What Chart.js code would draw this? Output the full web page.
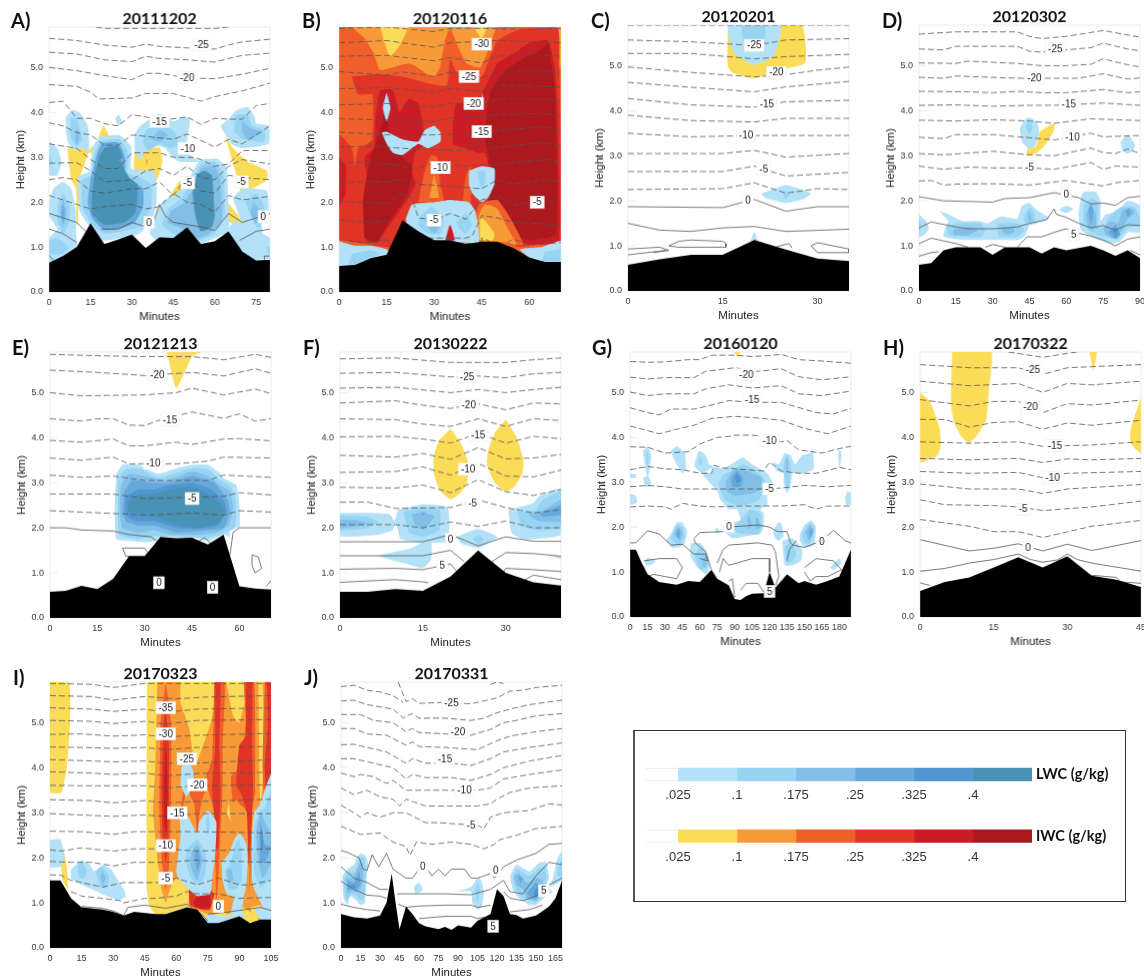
<!DOCTYPE html>
<html><head><meta charset="utf-8">
<script src="https://cdn.jsdelivr.net/npm/chart.js@4"></script>
<style>
html,body{margin:0;padding:0;background:#fff;width:1144px;height:980px;overflow:hidden}
canvas{position:absolute;filter:blur(.3px)}
.tag{position:absolute;font:bold 20px Lato,sans-serif;color:#111;line-height:24px}
#box{position:absolute;left:632.5px;top:730px;width:490px;height:170px;border:1px solid #333;border-left:2px solid #555}
</style></head><body>
<div id="box"></div>
<script>
const liquidColors=['#b3e1f7','#97d4f3','#82bee6','#67a8da','#5096d2','#4893b4'];
const iceColors=['#fbdc58','#f89a38','#f05f2a','#e03526','#c91d25','#ab191e'];
const legendEdges=[-0.0157,.025,.1,.175,.25,.325,.4,.475];
const legendRows=['LWC (g/kg)','IWC (g/kg)'];
const legendTickValues=[.025,.1,.175,.25,.325,.4];
const legendTickLabels=['.025','.1','.175','.25','.325','.4'];
const heightTicks=[0,1,2,3,4,5];

/* ---------- A ---------- */
const A_terrain=[0,.65,5,.8,10,1,15,1.53,20,1.07,25,1.17,30,1.28,35,.98,40,1.22,45,1.2,50,1.44,55,1.07,60,1.13,65,1.35,70,.9,75,.7,80,.72];
const A_ice=[
[0,[6.6,3.2,8,2.5,9.7,2.3,10,1.5,10.5,1.5,11,2.5,15,3.2,17,3.3,19.7,3.7,22,3.4,18,3,12,3.2]],
[0,[31,3.15,40,3.22,41,2.9,39,2.5,31,2.7]],[0,[38.5,2,40,1.5,39,1.5,38.7,2]],
[0,[43,2.05,47,2.45,50,2.55,50.5,2.2,46,2.05]],[1,[46.5,2.15,48,2.5,50,2.5,50,2.15]],[3,[48,2.15,49.5,2.4,50,2.15]],
[1,[37.8,1.6,40,1.75,40,1.45,38.5,1.5]],[1,[35,2.95,35.7,2.95,35.5,2.8]],
[0,[49.5,3.5,50.5,3.8,51,3.8,50.5,3.6]],
[0,[63.7,3.5,66.7,3.2,72,2.9,79,2.7,79,2.5,70,2.2,68,2.6,66,3]],[0,[64.5,2,66,1.9,71,1.5,70,1.35,65,1.6]]];
const A_liquid=[
[0,[0,3.35,3,3.2,4.5,2.9,3,2.6,0,2.6]],[1,[0,3.1,1,2.9,0,2.75]],
[0,[0,2,1.5,2.3,5,2.45,8,2.3,9.7,1.8,9.8,1.3,10,1,5,.8,0,.65,0,1.2,3,1.4,0,1.7]],
[1,[5,2.2,7.5,1.9,7,1.5,5,1.3,3,1.6,3,1.9]],[2,[5,2.05,6.3,1.8,5,1.45,4,1.8]],[3,[5,1.95,5.5,1.75,5,1.55,4.5,1.75]],[1,[0,1.15,3,1.2,7,1,5,.85,0,.85]],
[0,[6,3.9,8.5,4.05,11,4,14,3.7,14.5,3.1,12,3.2,10,3.15,7,3.3,6,3.6]],[1,[8,3.9,10,3.85,12,3.4,10,3.25,8,3.4,7.5,3.6]],[2,[10,3.65,11,3.45,10,3.25,9.5,3.45]],
[0,[24,3.85,25,3.95,26.5,3.8,25,3.7]],
[0,[15.7,3.23,18.4,3.45,25.6,3.49,29.8,3.23,29.8,2.75,38.3,2.67,39,2.04,37.7,1.67,32.9,1.3,28,1.22,19.6,1.15,14.7,1.45,11,1.82,10.5,2.56,14.7,2.7]],
[1,[16,3,18.5,3.35,25.5,3.4,28.5,3.1,28.5,2.65,33,2.55,37,2.4,37,1.9,33,1.45,27,1.35,20,1.3,15,1.55,12,1.9,12,2.5,15.5,2.6]],
[3,[17,3,19,3.3,25,3.33,27.5,3,27.5,2.6,31,2.45,34,2.3,34,1.9,31,1.55,26,1.42,20,1.38,15.5,1.65,14,2,15,2.5]],
[5,[18,3,20,3.2,25,3.25,26.5,3,25.5,2.95,29,2.55,32,2.4,32,2.1,31,1.75,27,1.55,20,1.5,15.5,1.75,16,2.4]],
[0,[41.3,2.04,46.2,2.19,51,2.56,54.6,2.93,60.7,2.97,64.3,2.78,64.9,1.97,65,1.37,54.6,1.07,45,1.15,39,1.15,36.5,1.3,40,1.9]],
[1,[43,1.85,48,2.1,52,2.5,55,2.85,60,2.9,63,2.65,63.5,1.7,60,1.3,54,1.15,45,1.3,41,1.5]],
[2,[44,1.8,49,2,53,2.4,55,2.75,60,2.8,62,2.5,62.5,1.6,58,1.3,54,1.2,47,1.45,43,1.55]],
[5,[52,2.2,53.5,2.6,56,2.7,59,2.6,59.5,2.2,60,1.7,59,1.45,55,1.35,53,1.7]],
[0,[31,3.3,31,3.5,33,3.7,40,3.97,45,3.8,49,3.9,51,3.85,50,3.3,52,3,55,2.9,47,2.9,45,3,42,3.2,40,3.25,36,3.2,33,2.95,31,3.15]],
[1,[34,3.3,35,3.6,40,3.75,45,3.6,47,3.3,44,3.2,40,3.3,36,3.15]],[2,[37,3.4,40,3.6,43,3.5,40,3.35]],
[0,[62,3.7,65,3.85,68,4.05,72,4.12,74.5,3.9,75,3.75,79.5,3.7,79.5,3.3,70,3.2,66,3.3,64,3.5]],
[1,[68,3.95,72,3.95,73.5,3.7,78,3.6,78,3.35,70,3.4,67,3.6]],[2,[70,3.8,73,3.65,77,3.55,72,3.4,70,3.55]],
[0,[66.5,2.1,70,2.3,75,2.3,79,2.25,79.5,1.8,77,1.6,77.5,1.3,80,1.2,80,.75,72,.72,70,.9,65,1.37,66,1.5,68,1.6,70,1.5]],
[1,[71,2,75,2.2,78,1.9,76,1.4,74,1.6]],[2,[74,2,76,1.85,75,1.5,73,1.75]],[1,[79,1,80,1,80,.85,79,.9]]];
const A_cold=[
[17,5.9,20,5.87,60,5.87,65,5.9],
[0,5.65,10,5.6,20,5.5,30,5.45,35,5.52,40,5.47,55,5.42,60,5.41,65,5.5,70,5.57,80,5.63],
[0,5.34,10,5.3,20,5.17,30,5.13,35,5.25,40,5.2,50,5.17,60,5.12,65,5.2,70,5.27,80,5.32],
[0,5,10,4.93,20,4.82,30,4.73,35,4.87,40,4.87,50,4.77,60,4.75,70,4.85,80,4.98],
[0,4.62,10,4.58,15,4.45,18,4.3,30,4.32,35,4.42,45,4.42,55,4.25,60,4.35,70,4.48,80,4.65],
[0,4.22,5,4.25,10,3.87,15,3.87,20,3.75,25,3.7,30,3.95,35,3.9,40,3.82,50,3.9,55,3.73,60,3.87,65,3.85,70,3.85,75,4.15,80,4.2],
[0,3.77,5,3.7,10,3.55,15,3.5,20,3.27,25,3.27,30,3.5,45,3.4,50,3.52,60,3.23,65,3.4,70,3.3,75,3.5,80,3.7],
[0,3.3,10,3.2,15,2.95,20,2.75,25,2.75,30,3.1,40,3.1,45,3,52,3,55,2.95,60,2.8,65,2.85,70,3.15,80,3.15],
[0,2.87,10,2.88,15,2.7,20,2.45,30,2.5,35,2.7,40,2.75,45,2.6,50,2.8,55,2.55,60,2.5,65,2.8,70,2.95,80,2.85],
[0,2.5,5,2.55,10,2.5,15,2.25,20,2.2,25,2.25,30,2.3,35,2.3,40,2.45,45,2.15,50,2.6,55,2.25,60,2.2,65,2.6,70,2.55,80,2.5],
[0,2.15,5,2.05,10,1.95,15,1.85,20,1.9,30,1.95,35,1.85,40,1.9,45,2.2,50,2,55,1.95,60,1.78,65,2.15,70,2.05,80,2.13]];
const A_warm=[
[0,1.75,5,1.65,10,1.55,14,1.3],[19,1.4,25,1.4,30,1.55,35,1.45,38,1.6,40,1.95,42,1.7,45,1.55,50,1.5,55,1.45,60,1.37,65,1.75,70,1.55,75,1.65,80,1.75],
[0,1.4,5,1.3,10,1.1],[69,1.15,75,1.35,80,1.4],[0,.82,1.5,.7],[78,.72,78,.8,80,.8]];
const A_tags=[['-25',55.2,5.5],['-20',50,4.77],['-15',40,3.8],['-10',50.3,3.2],['-5',50.2,2.43],['-5',69.7,2.45],['0',36.2,1.55],['0',77.6,1.68]];

/* ---------- B ---------- */
const B_terrain=[0,.58,5,.6,10,.75,15,.83,20,1.6,25,1.35,30,1.15,35,1.15,40,1.07,45,1.12,50,1.12,55,.98,60,.77,65,.67,70,.67];
const B_ice=[
[2,[0,.5,70,.5,70,5.9,0,5.9]],
[1,[4,5.9,8,5.65,11,5.3,12.9,4.94,22.3,5.09,29.7,4.79,31.8,5,33.4,5.6,35,5.87,37.6,5.45,40.3,5.09,44.5,5,46.6,5.3,49.2,5.83,50,5.9]],
[0,[12.9,5.9,16,5.25,19.2,5.5,21.8,5.87,22,5.9]],[0,[42.4,5.9,45,5.65,46.6,5.9]],
[1,[68.7,5.9,70,5.9,70,5,69.5,5]],
[3,[4,4.8,12,4.85,20,4.8,28,4.65,34,4.6,35,5.2,37,4.9,40,4.75,45,4.8,48,5.3,50,5.6,55,5.8,60,5.87,69,5.87,69.5,5,70,3,70,1.1,62,1.05,57,1,53,1.1,48,1.15,45,1.15,30,1.15,20,1.4,17,1,10,1.05,5,1.1,0,1.2,0,3.5,4,3.2,5,2.8,6,3.2,9,3.3,10.5,3.4,10.5,4.4,6,4.4]],
[4,[47,4.7,50,5.1,56,5.35,60,5.55,66,5.6,68,5,69,4,69.5,1.15,62,1.05,57,1.1,53,1.2,49,1.35,48,1.9,46,2.2,48,2.5,46,3.1,44,3.1,40,3.2,36,3.3,36,3.8,37,4.2,40,4.2,44,4.3]],
[5,[47,4.2,48,4.5,52,4.9,58,5.2,64,5.4,66,5.55,68,4.5,68.5,1.3,60,1.15,55,1.3,50,1.4,50,1.75,47,2,48.5,2.5,47,3.1,46,3.5]],
[4,[10,1.5,9,2.5,8,3,11,3.2,11.5,3.9,13,4.5,17,4.5,19,4,22,4.3,25,4.2,26,3.9,27,3.3,24,3.1,23,2.7,24,2.4,22,2.1,19,1.8,15,1.4,12,1.1,8.5,1.15]],
[5,[8,1.2,7.5,2,8.5,2.5,10,3,13,3.6,15,4.1,16,3.4,20,3,23,2.8,22,2.3,19,1.9,15,1.5,12,1.1]],
[4,[0,1.9,2,2.2,2,2.8,0,3]],
[2,[25,2,27,2.7,29,3.05,31,3,32,2.4,33,2]],[1,[28.5,2.1,30,2.6,31.5,2.1]],
[2,[39,2,40,2.6,41.5,2.8,41.5,2]],
[2,[42,1.2,44,1.95,50,2.05,54,1.65,58,1.05]],[1,[43.5,1.15,44,1.7,46,1.95,50,1.85,53,1.45,56,1.05,53,1.1]],[0,[44.5,1.15,44.5,1.65,46,1.6,49,1.3,48.5,1.15]]];
const B_liquid=[
[0,[0,1.13,5,1.03,10,1.03,15,.95,16,.83,10,.75,5,.6,0,.58]],[1,[4,.85,10,.93,13,.85,10,.75,5,.6,3,.6]],
[0,[60,.98,64,1,70,1.13,70,.65,64,.65,60,.77,57,.95]],[1,[65,.9,70,.95,70,.65,64,.65]],
[0,[21,1.62,23,1.95,30,2,35,2.05,41,2,43,1.8,44,1.4,44,1.1,38,1.1,30,1.15,25,1.33,21.5,1.5]],
[1,[26,1.7,29,1.9,33,1.65,32,1.3,28,1.3,25,1.5]],[1,[37,1.55,40,1.75,42,1.5,40,1.3,38,1.4]],[2,[28,1.6,30,1.75,32,1.5,30,1.3,28,1.45]],
[0,[15,4.45,16.2,4.1,15,3.8,13.8,4.1]],
[0,[13.5,3.55,15,3.57,20,3.4,25,3.35,27,3.6,30,3.7,32,3.55,32,3.35,28,3.2,25,3.3,20,3.05,17,3.1,15,3.3]],
[0,[45,4.45,45.3,4.35,45,4.3]],
[0,[41,2.7,45,2.8,49,2.75,49,2.4,47,2.1,45,2,42,2.2,41,2.4]],[1,[43.5,2.7,46,2.7,46,2.45,45,2.3,44,2.5]]];
const B_top=[[4,[33.5,1.15,35,1.5,36.5,1.15]]];
const B_cold=[
[0,5.87,15,5.9,30,5.8,35,5.87,45,5.87,60,5.85,70,5.87],
[0,5.55,15,5.6,30,5.45,35,5.55,50,5.6,70,5.55],
[0,5.25,15,5.27,30,5.15,35,5.22,45,5.1,50,5.25,60,5.3,70,5.25],
[0,4.91,15,4.83,20,4.9,30,4.8,35,4.9,45,4.78,50,4.9,70,4.9],
[0,4.53,15,4.55,30,4.45,35,4.53,45,4.47,50,4.6,70,4.57],
[0,4.17,15,4.2,30,4.12,35,4.2,45,4.2,50,4.3,65,4.3,70,4.25],
[0,3.86,15,3.83,30,3.8,35,3.88,45,3.9,50,3.95,65,3.98,70,3.9],
[0,3.56,15,3.5,30,3.5,45,3.55,50,3.6,65,3.68,70,3.6],
[0,3.23,10,3.25,20,3.2,30,3.17,40,3.15,50,3.22,65,3.33,70,3.25],
[0,2.84,5,2.9,15,2.85,25,2.75,30,2.88,40,2.8,50,2.85,65,2.95,70,2.9],
[0,2.45,15,2.45,20,2.52,25,2.4,35,2.35,45,2.3,50,2.5,55,2.4,65,2.5,70,2.45],
[0,2.02,15,1.97,20,2.2,23,2.1,25,1.65,30,1.6,35,1.75,40,1.62,42,1.8,45,2.05,50,2.15,55,1.93,60,2,70,2.02],
[0,1.6,10,1.55,15,1.6,18,1.4],[28,1.2,30,1.2,40,1.2,42,1.25,45,1.7,50,1.65,55,1.55,70,1.5],
[0,1.17,5,1.12,10,1.1,15,1.17,16,.95],[45,1.1,45,1.2,47,1.15,48,1.1],[53,1.1,55,1.18,60,1.05,70,1.1]];
const B_warm=[];
const B_tags=[['-30',45,5.52],['-25',41,4.8],['-20',42.5,4.2],['-15',45,3.57],['-10',32,2.77],['-5',30,1.6],['-5',62.5,2]];

/* ---------- C ---------- */
const C_terrain=[0,.58,5,.7,10,.8,15,.8,20,1.13,25,.92,30,.72,35,.66];
const C_ice=[[0,[15.8,5.9,15.8,5,16.5,4.85,20,4.72,24,4.9,28,5.05,28.2,5.3,27.5,5.9]]];
const C_liquid=[
[0,[15.8,5.9,16,5.55,17,5.25,20,5.02,23,5.2,24,5.6,24.2,5.9]],[1,[18,5.9,18.2,5.6,20,5.3,21.5,5.55,21.7,5.9]],
[0,[21,2.15,25,2.35,29,2.17,28,2.05,25,1.95,22,2.05]],[1,[25,2.2,25.5,2.15,25,2.05,24.5,2.15]],[0,[19.4,1.1,20,1.3,20.6,1.1]]];
const C_cold=[
[0,5.9,35,5.9],[0,5.57,10,5.53,20,5.45,25,5.57,35,5.6],[0,5.27,10,5.27,20,5.15,25,5.2,35,5.25],
[0,4.97,10,4.85,20,4.75,25,4.8,30,4.9,35,4.97],[0,4.63,10,4.52,20,4.42,25,4.53,35,4.65],[0,4.27,10,4.13,20,4.08,25,4.2,35,4.23],
[0,3.9,10,3.78,20,3.75,25,3.83,35,3.83],[0,3.5,10,3.42,20,3.45,25,3.45,35,3.45],[0,3.05,15,3.05,20,3.12,25,2.97,35,3.05],
[0,2.65,15,2.65,20,2.77,25,2.55,35,2.63],[0,2.25,15,2.27,20,2.4,25,2.17,30,2.27,35,2.25]];
const C_warm=[
[0,1.87,15,1.85,20,2.03,25,1.77,30,1.87,35,1.87],[0,1.5,5,1.35,10,1.32,15,1.4,20,1.43,25,1.32,35,1.37],
[6.5,1,8,1.1,10,1.13,15,1.1,15.5,1.05,15.5,.97,8,.97,6.5,1],[0,.93,5,.97,6.5,.9,4,.85],[0,.8,6,.9],[23.5,.98,25.5,1.05,26,.95],
[29,1,30,1.07,35,.93,35,.85,30,.85,29,1]];
const C_tags=[['-25',20,5.45],['-20',23.5,4.85],['-15',22,4.15],['-10',18.7,3.45],['-5',21.5,2.7],['0',19,2]];

/* ---------- D ---------- */
const D_terrain=[0,.58,5,.62,10,.9,15,.97,25,.97,30,.8,35,.97,45,.97,50,.83,55,.97,60,.9,70,1,75,.9,80,.78,85,.9,90,.73];
const D_ice=[[0,[44,3.15,44,3,46.7,3.02,50.8,3.2,54.8,3.54,55.2,3.72,49.4,3.54,47.5,3.2]]];
const D_liquid=[
[0,[0,1.7,3,1.55,4,1.4,2.5,1.25,0,1.2]],[1,[0,1.6,1,1.45,0,1.3]],
[0,[8,1.78,12,1.7,18,1.55,25,1.55,28,1.5,33,1.65,40,1.6,41,1.75,42,1.9,45,1.95,48,1.8,53,1.62,48,1.5,45,1.45,43,1.2,40,1.13,33,1.13,30,1.13,28,1.13,18,1.13,10,1.2,11,1.45,12,1.55]],
[1,[11,1.4,15,1.5,25,1.5,27,1.35,25,1.2,15,1.2,12,1.25]],[2,[14,1.35,20,1.42,24,1.35,20,1.23,14,1.25]],
[1,[32,1.5,40,1.5,43,1.35,40,1.2,33,1.2,32,1.3]],[2,[34,1.4,38,1.42,39,1.3,36,1.25,34,1.3]],
[1,[43,1.7,45,1.85,47,1.75,47,1.55,45,1.5,43,1.55]],[2,[44.5,1.75,45,1.75,46,1.6,45,1.55,44.5,1.65]],
[0,[57,1.8,60,1.9,63,1.82,60,1.73]],
[0,[41,3.6,43,3.8,45,3.85,48,3.75,49,3.5,47,3.2,45,3.15,42,3.3]],[1,[43.5,3.65,45,3.75,46.3,3.65,45,3.45]],
[0,[82,3.3,85,3.47,88,3.25,87,3.1,85,3.05,83,3.1]],
[0,[66,2.1,67,2.2,72,2.2,74,2,74,1.55,76,1.7,80,1.75,85,2,90,1.9,90,1.3,85,1.3,82,1.1,78,1.05,72,1.15,66,1.35,65,1.7]],
[1,[67,1.9,70,2.05,73,1.95,73,1.4,75,1.4,78,1.7,82,1.85,88,1.85,90,1.6,90,1.45,85,1.4,81,1.15,75,1.2,70,1.3,67,1.5]],
[2,[68,1.7,70,1.95,72,1.7,72,1.45,71,1.35,69,1.4]],[2,[75,1.4,78,1.55,81,1.5,83,1.8,86,1.85,88,1.75,85,1.6,82,1.3,80,1.15,76,1.25]],
[3,[69,1.8,70,1.9,71,1.8,70,1.45]],[3,[77,1.3,80,1.45,82,1.25,80,1.15]],[3,[84,1.78,85.5,1.82,86.5,1.72,85,1.65]],[4,[79,1.32,80,1.42,81,1.3,80,1.2]]];
const D_cold=[
[0,5.7,15,5.75,40,5.75,45,5.65,50,5.6,60,5.65,75,5.78,90,5.63],
[0,5.37,10,5.35,15,5.43,40,5.43,45,5.32,50,5.3,60,5.35,70,5.4,75,5.5,85,5.37,90,5.33],
[0,5.06,15,5.05,20,5.1,40,5.05,50,5,60,5,70,5.03,75,5.15,85,5.02,90,4.97],
[0,4.74,10,4.72,15,4.77,40,4.72,55,4.72,65,4.72,75,4.82,85,4.7,90,4.73],
[0,4.43,20,4.42,30,4.4,40,4.43,50,4.4,60,4.4,75,4.47,85,4.4,90,4.42],
[0,4.12,15,4.13,30,4.1,45,4.12,55,4.12,75,4.17,90,4.12],
[0,3.79,15,3.77,30,3.8,45,3.77,55,3.72,70,3.82,90,3.78],
[0,3.41,10,3.38,15,3.47,30,3.47,45,3.4,55,3.35,70,3.5,75,3.42,90,3.45],
[0,3.05,10,3.02,30,3.1,45,3.02,55,3,70,3.17,75,3.07,80,3.05,85,3.15,90,3.05],
[0,2.77,10,2.7,20,2.75,30,2.73,45,2.73,55,2.7,70,2.85,75,2.7,80,2.77,90,2.75],
[0,2.44,5,2.45,10,2.35,15,2.37,30,2.38,45,2.35,60,2.45,75,2.33,80,2.4,90,2.45]];
const D_warm=[
[0,2.09,10,2,30,1.97,35,2.05,45,2.07,55,2.18,65,2.07,70,1.93,75,1.95,80,1.9,85,2.07,90,2.1],
[0,1.4,5,1.53,15,1.42,20,1.38,30,1.38,40,1.42,45,1.5,52,1.58,55,1.82,56,1.7,60,1.63,65,1.5,70,1.4,75,1.45,80,1.35,85,1.47,90,1.45],
[0,1.05,5,1.17,15,1.05,20,.97],[27,.97,30,1.03,35,.97],[40,.97,44,1.2,50,1.2,55,1.3,60,1.38,65,1.28,70,1.22,75,1.13,80,1],[80,1,85,1.15,90,1.2],
[0,.77,5,.85,8,.87],[86,.9,90,.8]];
const D_tags=[['-25',55.5,5.37],['-20',47,4.73],['-15',61,4.15],['-10',62.5,3.42],['-5',45,2.75],['0',60,2.15],['5',63,1.25]];

/* ---------- E ---------- */
const E_terrain=[0,.58,5,.6,10,.71,15,.64,20,.87,25,1.37,30,1.37,35,1.8,40,1.77,45,1.78,50,1.63,55,1.85,60,.7,65,.65,70,.63];
const E_ice=[[0,[37,5.9,40,5.1,45,5.8,48,5.9]]];
const E_liquid=[
[0,[21,3.2,23,3.4,28,3.4,34,3.2,40,3.32,45,3.4,50,3.4,54,3.2,55,3.1,59,2.95,60,2.5,60,2,57,2,57,1.8,55,1.85,50,1.7,46,1.78,36,1.8,33,1.7,30,1.68,24,1.72,21,1.75,20.5,2.4]],
[1,[21.5,3.1,24,3.3,29,3.3,34,3.1,40,3.22,45,3.32,50,3.3,54,3.05,57.5,2.9,59,2.5,58.5,2,55,1.88,50,1.78,38,1.8,33,1.82,28,1.75,22,1.85,21.5,2.4]],
[2,[22.5,2.95,25,3.2,30,3.15,37,3.05,45,3.25,50,3.15,54,2.95,57,2.8,58,2.4,56.5,2.05,53,1.9,47,1.85,38,1.85,33,1.95,28,1.9,23,2,22,2.4]],
[3,[23.5,2.8,26,3.05,32,3,38,3,45,3.15,52,3,56,2.65,57,2.35,55,2,50,1.95,40,1.9,33,2.05,28,2.05,24,2.15,23,2.4]],
[4,[24,2.7,28,2.85,33,2.85,38,2.95,45,3,51,2.85,55,2.6,56,2.35,53,2.05,47,1.98,40,2,33,2.15,27,2.15,24,2.3]],
[5,[24.5,2.55,28,2.75,33,2.75,38,2.85,45,2.9,50,2.75,53,2.6,55.5,2.35,53,2.1,47,2,41,2.05,33,2.25,28,2.3,25,2.35]]];
const E_cold=[
[0,5.85,15,5.82,30,5.8,45,5.8,55,5.73,65,5.85,70,5.78],[0,5.5,15,5.45,30,5.38,45,5.45,55,5.37,65,5.53,70,5.43],
[0,5,10,4.93,30,4.95,40,5,45,5.1,55,4.95,65,5.08,70,4.98],
[0,4.42,10,4.37,15,4.42,20,4.42,25,4.28,30,4.27,35,4.4,45,4.57,55,4.43,60,4.53,65,4.37,70,4.42],
[0,3.94,10,3.9,20,3.97,25,3.82,30,3.82,40,3.9,45,3.85,55,3.97,60,3.98,70,3.93],
[0,3.55,10,3.5,20,3.57,25,3.42,30,3.42,40,3.42,50,3.48,55,3.57,70,3.55],
[0,3.17,10,3.12,20,3.15,30,3.05,50,3.05,55,3.17,70,3.12],
[0,2.75,20,2.75,30,2.65,45,2.68,55,2.7,60,2.78,70,2.73],
[0,2.38,20,2.32,30,2.28,45,2.33,55,2.28,60,2.38,70,2.35]];
const E_warm=[
[0,2,5,2,10,1.95,20,1.93,25,1.85,32,1.8,34,1.7],[57,1.4,58,1.9,60,2,70,2],
[23,1.55,25,1.55,30,1.55,31,1.45,30,1.37,24,1.37,23,1.55],[64,1.4,66,1.35,67,1.1,65,1,64,1.15,64,1.4],[47,1.7,49,1.78,51,1.65],[68.5,.7,70,.83]];
const E_tags=[['-20',34,5.4],['-15',38,4.4],['-10',32.7,3.43],['-5',45,2.65],['0',34.5,.78],['0',51.5,.68]];

/* ---------- F ---------- */
const F_terrain=[0,.58,5,.58,10,.64,15,.6,20,.92,25,1.5,30,1,35,.79,40,.72];
const F_ice=[[0,[20,4.2,22,3.85,23.2,3.45,23,3,22,2.8,20,2.63,18,2.85,17,3.2,17,3.6,18,3.95]],[0,[30,4.4,32,4,33.2,3.5,33,3.2,31.5,2.9,30,2.8,28,3,26.6,3.4,26.8,3.7,28,4.1]]];
const F_liquid=[
[0,[0,2.33,5,2.33,9,2.3,10,2.1,9.5,1.95,7,1.85,0,1.82]],[1,[0,2.27,5,2.25,7,2.13,5,2,0,1.95]],[2,[0,2.18,3,2.17,5,2.1,3,2.03,0,2]],
[0,[15,1.7,13,1.55,7,1.38,12,1.2,15,1.1,16.5,1.3,16.5,1.7]],
[0,[10.5,2.4,15,2.52,19.5,2.45,19.5,1.7,15,1.68,11,1.75,10.3,2.05,9.9,2.15]],[1,[11.5,2.35,15,2.45,18,2.4,18,1.95,15,1.8,12.5,1.9]],[2,[13,2.3,15,2.35,17,2.25,15,1.95,13.5,2.1]],[3,[14.5,2.38,15,2.33,15.5,2.35,15,2.27]],
[0,[21,1.8,25,1.97,28.5,1.8,26,1.6,25,1.55,22,1.65]],[1,[24,1.75,25,1.85,26,1.75,25,1.65]],
[0,[30.5,2.4,35,2.55,36,2.7,39,2.85,40,2.85,40,1.85,35,1.75,33,1.75,31,1.9]],[1,[32,2.35,35.5,2.4,36.5,2.6,40,2.8,40,2,35,1.95,33,2.05]],[2,[34,2.3,37,2.4,40,2.62,40,2.15,36,2.15]],[3,[36,2.3,40,2.5,40,2.3,37,2.25]],
[0,[38,1.4,40,1.35,40,1.3]]];
const F_cold=[
[0,5.75,10,5.77,20,5.67,30,5.67,35,5.73,40,5.77],[0,5.43,10,5.45,20,5.35,25,5.37,30,5.33,35,5.42,40,5.45],
[0,5.1,10,5.12,20,5,25,5.07,30,5,35,5.07,40,5.12],[0,4.77,10,4.82,15,4.72,20,4.65,25,4.75,30,4.62,35,4.77,40,4.75],
[0,4.42,10,4.4,15,4.3,20,4.25,25,4.42,30,4.25,35,4.42,40,4.38],[0,4.02,10,4.03,15,3.97,20,3.88,25,4.1,30,3.88,35,4.03,40,3.98],
[0,3.61,10,3.57,15,3.65,20,3.52,25,3.78,30,3.53,35,3.55,40,3.63],[0,3.23,10,3.25,15,3.35,20,3.17,25,3.43,30,3.15,35,3.13,40,3.28],
[0,2.9,10,2.88,15,2.95,20,2.78,25,3.07,30,2.8,35,2.72,40,2.85],[0,2.57,5,2.57,10,2.43,20,2.45,25,2.62,30,2.45,35,2.33,40,2.4],
[0,2.07,10,2.07,15,2,20,2.13,25,2.03,30,2.15,35,2,40,2]];
const F_warm=[
[0,1.69,15,1.69,20,1.85,25,1.6,30,1.8,35,1.7,40,1.7],[0,1.38,15,1.38,20,1.5,22.5,1.25],[27.5,1.25,30,1.45,35,1.43,40,1.37],
[0,1.08,10,1.1,15,1.07,20,1.2,21,1.05],[29.5,1,30,1.1,35,1.07,40,1.03],[0,.79,10,.85,15,.8,16,.78],[33.5,.85,35,.95,40,.85]];
const F_tags=[['-25',23,5.35],['-20',23.3,4.73],['-15',25,4.05],['-10',23.2,3.3],['-5',24,2.55],['0',20,1.75],['5',18.5,1.17]];

/* ---------- G ---------- */
const G_terrain=[0,1.5,5,1.5,10,1.2,15,.95,25,.78,40,.72,50,.8,60,.78,70,1.05,75,.85,85,.7,90,.4,95,.38,100,.47,105,.52,115,.53,120,1,125,.65,135,.95,145,.75,150,.8,160,.72,170,.8,180,.9,190,1.5];
const G_ice=[[0,[90,5.9,92,5.8,95,5.9]]];
const G_liquid=[
[0,[11,3.7,15,3.8,18,3.6,17,3.3,15,3.1,13,3.3]],[0,[11,3.1,15,3.15,18,3,17,2.9,13,2.9]],[1,[13.5,3.65,15,3.7,16,3.5,15,3.35,14,3.45]],
[0,[0,3.2,5,3.17,5,3.1,0,3.1]],[0,[0,2.75,5,2.7,6,2.55,0,2.5]],
[0,[35,3.7,40,3.8,47,3.65,48,3.3,45,3.2,38,3.5]],
[0,[55,3.35,58,3.65,60,3.7,65,3.6,68,3.4,72,3.35,62,3.2]],[1,[59,3.45,60,3.6,62,3.45,60,3.35]],
[0,[60,3.25,70,3.2,72,3.35,80,3.3,90,3.45,97,3.55,105,3.4,118,3.2,123,2.95,118,2.8,118,2.5,112,2.4,115,2.3,115,2,112,1.85,100,1.8,88,1.75,80,1.95,85,2.1,95,2.15,92,2.4,85,2.4,78,2.6,75,2.8,68,3]],
[1,[76,2.95,80,3.15,90,3.3,97,3.4,105,3.3,115,3.1,117,2.85,110,2.6,100,2.5,90,2.5,82,2.6,78,2.8]],
[2,[82,3,88,3.25,95,3.3,105,3.2,113,3.1,113,2.85,105,2.75,90,2.7,83,2.8]],
[3,[87,3.1,92,3.25,97,3.1,95,2.9,88,2.9]],[4,[90,3.1,92,3.2,95,3.05,92,2.97]],
[1,[97,2.2,103,2.4,112,2.3,113,2,110,1.85,100,1.85,90,1.9,90,2.05]],[2,[101,2.2,102,2.25,105,2.05,102,1.95]],[2,[108,2.2,110,2.2,112,2,108,1.95]],
[0,[31,1.7,35,1.85,40,2.1,45,2.1,49,1.9,47,1.65,42,1.55,36,1.55]],[1,[35,1.75,40,2.05,45,2,47,1.8,42,1.6]],[2,[38,1.85,41,2,45,1.9,43,1.7]],[3,[40,1.85,41.5,1.95,43,1.85,41.5,1.75]],
[0,[52,1.65,60,1.65,65,1.5,68,1.25,68,1.05,65,.95,58,1.1,52,1.35]],[1,[56,1.4,60,1.55,66,1.35,66,1.1,60,1.05,57,1.25]],[2,[62,1.3,65,1.35,66,1.15,63,1.1]],
[0,[12,1.25,15,1.32,22,1.25,18,1.15,14,1.15]],[0,[73,1.95,75,2,77,1.9,75,1.85]],
[0,[123,1.9,127,2.1,130,2.1,132,1.8,128,1.7,125,1.75]],
[0,[123,3.45,128,3.4,133,3.65,138,3.6,142,3.4,148,3.6,155,3.65,157,3.75,158,3.3,150,3.2,140,3.2,138,2.9,135,2.75,132,3,132,3.2,126,3.25]],[1,[132,3.4,135,3.6,138,3.4,137,2.95,135,2.85,133,3.1]],[2,[134,3.45,135,3.55,136,3.4,135,3.2]],
[0,[131,1.7,140,1.75,148,1.5,147,1.25,140,1.15,133,1.15]],[1,[133,1.55,138,1.65,143,1.4,140,1.25,135,1.2]],
[0,[146,1.85,150,2.05,156,2.15,160,2,158,1.6,150,1.55,146,1.7]],[1,[148,1.85,155,2.1,159,1.95,155,1.65,150,1.65]],[2,[151,1.9,155,2.05,158,1.9,154,1.7]],[3,[154,1.9,156,1.98,157,1.88,155,1.78]],
[0,[172,1.1,180,1.3,182,1.2,175,1.05]],[0,[179,3.6,180,3.75,182,3.6,180,3.3]],[0,[185,2.65,187,2.8,190,2.75,190,2.5,186,2.5]]];
const G_cold=[
[0,5.69,15,5.67,30,5.68,50,5.73,60,5.73,70,5.83,90,5.83,105,5.8,120,5.82,130,5.85,145,5.73,165,5.7,190,5.65],
[0,5.34,15,5.3,30,5.33,55,5.33,65,5.47,90,5.55,110,5.47,130,5.53,145,5.35,165,5.28,190,5.35],
[0,5.01,15,4.93,30,4.97,55,4.97,65,5.08,85,5.17,105,5.1,130,5.15,145,4.97,165,4.93,190,5.03],
[0,4.66,15,4.55,25,4.5,35,4.63,55,4.63,70,4.72,85,4.82,105,4.78,130,4.78,160,4.55,175,4.52,190,4.65],
[0,4.25,15,4.15,25,4.08,40,4.18,55,4.27,70,4.42,90,4.47,110,4.43,130,4.38,150,4.2,170,4.08,190,4.25],
[0,3.79,15,3.78,30,3.65,50,3.68,60,3.85,75,4,85,4.02,90,4.05,105,4.05,120,4,130,3.9,135,3.93,145,3.72,165,3.65,180,3.75,190,3.8],
[0,3.28,15,3.35,30,3.3,45,3.28,60,3.2,70,3.2,72,3.38,80,3.32,90,3.3,115,3.25,120,3.45,130,3.25,145,3.2,160,3.2,180,3.33,190,3.28],
[0,2.9,15,2.93,30,2.9,45,2.85,60,2.85,90,2.85,115,2.85,130,2.87,150,2.93,170,2.9,190,2.93],
[0,2.45,15,2.47,30,2.45,35,2.4,45,2.53,60,2.47,75,2.45,90,2.47,115,2.47,130,2.47,150,2.5,160,2.4,170,2.47,190,2.47]];
const G_warm=[
[0,1.65,5,1.65,15,1.92,25,1.85,35,1.6,45,1.62,55,1.4,65,1.4,67,1.25,60,1.3],
[55,1.75,60,1.88,80,1.9,85,2,110,2.05,120,2,127,1.9,135,1.9,138,1.65,140,1.6,150,1.55,165,1.7,175,1.93,185,1.7,190,1.65],
[55,1.75,56,1.65,65,1.45,68,1.2,70,1.05],
[12,1.25,25,1.3,40,1.3,45,1.1,40,.85,30,.9,20,.95,15,.9],
[75,1.2,80,1.5,85,1.6,110,1.65,122,1.6,125,1.45,128,.9,125,.7],
[77,1,80,1.3,85,1.15,105,1.3,120,1.3,120,1],[85,.8,88,.85,90,.45,86,.4],[95,.6,100,.75,110,.75,115,.55],
[135,1.25,137,1.5,143,1.7],[150,1.1,160,1.3,175,1.25,182,1.05,170,.9,160,.9,155,.8,150,1]];
const G_tags=[['-20',100,5.4],['-15',105,4.83],['-10',120,3.93],['-5',120,2.85],['0',85,2.02],['0',165,1.67],['5',120,.57]];

/* ---------- H ---------- */
const H_terrain=[0,.58,5,.78,10,.88,15,1.1,20,1.33,25,1.1,30,1.35,35,.92,40,.83,45,.67];
const H_ice=[[0,[0,5,2,4.8,4,4.2,4.2,3.8,3.5,3.6,0,3.45]],[0,[6.5,5.9,6.3,4.7,7,4.3,8.5,4,10,3.87,12,4.1,13.5,4.4,14,5,14.5,5.9]],[0,[34.5,5.9,35.3,5.5,36,5.9]],[0,[45,4.87,43.5,4.4,42.8,4.1,43,3.85,45,3.65]]];
const H_liquid=[];
const H_cold=[
[18,5.9,25,5.78,30,5.87,32,5.9],[0,5.62,10,5.55,20,5.55,25,5.4,30,5.55,45,5.62],[0,5.25,10,5.15,20,5.2,25,5,30,5.2,35,5.17,45,5.25],
[0,4.84,10,4.7,15,4.8,20,4.8,25,4.55,30,4.75,35,4.72,45,4.83],[0,4.4,5,4.4,10,4.23,15,4.33,20,4.35,25,4.18,30,4.32,35,4.27,45,4.38],
[0,3.9,10,3.87,20,3.9,25,3.8,35,3.83,45,3.9],[0,3.53,10,3.5,20,3.53,25,3.44,30,3.52,35,3.5,45,3.53],[0,3.24,10,3.2,20,3.22,25,3.1,30,3.2,45,3.24],
[0,2.96,10,2.85,20,2.85,25,2.75,30,2.85,45,2.95],[0,2.61,5,2.5,15,2.48,20,2.45,25,2.37,35,2.45,45,2.58],[0,2.17,10,2.02,15,1.9,20,1.9,25,1.77,35,2.02,45,2.15]];
const H_warm=[
[0,1.72,10,1.47,15,1.53,20,1.63,25,1.47,30,1.62,35,1.48,45,1.7],
[0,1.02,5,1.08,10,1.2,15,1.28,20,1.4,22.5,1.28,25,1.22,28,1.27,30,1.4,32,1.28,35,1.2,45,1.02],
[0,.76,2,.7],[35,.93,40,.88,41,.78,45,.75]];
const H_tags=[['-25',23,5.5],['-20',22.5,4.67],['-15',27.5,3.82],['-10',27,3.1],['-5',21,2.4],['0',22,1.55]];

/* ---------- I ---------- */
const I_terrain=[0,1.5,5,1.5,10,1.1,15,.9,25,.85,30,.8,35,.72,40,.8,50,.75,55,.75,65,.9,70,.85,75,.55,80,.55,90,.7,95,.55,100,.63,105,.63];
const I_ice=[
[0,[0,5.9,9,5.9,9.5,5,8,4,5.5,3.45,0,3.45]],[0,[0,2.4,5,2.4,8,1.8,8.5,1.3,6,1.5,5,1.8,0,1.8]],
[0,[46,5.9,105,5.9,105,.65,75,.65,65,.9,55,.75,50,.75,47,.95,46,1.3]],
[1,[51,5.9,105,5.9,105,.65,100,.6,95,.8,92,.9,90,.9,88,.8,78,.7,72,.8,66,.95,66,1.3,60,1.55,57,1.3,55,1,53,1.3,51,2,49,3,50,4]],
[0,[62,5.9,62,5.45,66,4.9,69,4.05,72,4.4,77,5.1,78,5.9]],[0,[83.7,5.9,87,5.15,90,5,94,5.9]],[0,[99,5.9,99.5,4,100,3.1,101.5,4,101,5.9]],[0,[84,3,85,3.2,86,2.8]],
[0,[77,.7,82,.85,84,.75,88,.65]],[0,[95,.9,100,.95,101,.75,97,.6]],
[2,[52.5,5,55,5.85,57.5,5,57.5,3,56.5,1.8,55,1.3,53,2,52,3]],
[3,[53,3.5,54,5,55,5.3,56.5,4.5,56.5,3,56,2.2,55,1.9,53.5,2.5]],[4,[54,3.5,55,4.5,56,3.5,55.5,2.7,55,2.5,54.3,2.8]],
[2,[78,5.9,83,5.9,82,4.5,82,3.5,81,2.5,80,1.5,79,1,78.5,2.2,78,3,75,3.5,73,3.4,71,3,70,2.5,69,3,68.5,3.2,65,3.5,63.5,3.2,62,3,64,3.6,69,3.75,73,3.7,77,4.2]],
[3,[78.5,5.9,81,5.9,80.5,4.5,81,3.5,80,2.2,79,2.2,78,3,77,3.5,78.5,4.5]],
[2,[92,5.9,97,5.9,97.5,3.5,96,3,95,1.2,94,3,90,3.2,88,3.3,87,3.2,86,3.8,90,4,93,5]],
[3,[93,5.9,96,5.9,96,4.5,96.5,3.5,94.5,1.8,93.5,3,91,3.4,88.5,3.6,90,4.5,93,4.7]],
[2,[102,5.9,105,5.9,105,3.8,102,3.2,101,4]],[3,[103,5.9,105,5.9,105,3.8,103,3.4,102,4,103.5,5]],
[3,[66,1.3,66.5,.95,72,.85,76,.85,78,1.2,75,1.3]],[4,[68,1,70,1.15,76,1.15,76,.9,72,.88,69,.9]]];
const I_liquid=[
[0,[10,1.75,15,1.95,19,1.85,21,1.7,25,1.85,29,1.75,33,1.45,35,1.3,36,1.15,33,1.05,27,1.15,20,1.3,13,1.45,10,1.55]],
[1,[13,1.8,15,1.9,17.5,1.7,16,1.55,14,1.55]],[1,[22,1.7,25,1.8,28,1.6,27,1.35,24,1.35,22.5,1.55]],[2,[24,1.6,25,1.7,26.5,1.55,25,1.4]],
[0,[0,2.4,5,2.4,7,2,5,1.8,0,1.8]],
[0,[62,3.6,62.5,4,65,4.15,68,3.95,68,3.6,65,3.35,63,3.5]],
[0,[61.5,3,65,2.95,68,2.7,70,2.55,71,2.8,75,3.05,79,2.8,78.5,2.1,77,1.5,76,1.2,70,1.15,66,1.3,61,1.55,60,1.7,62,2.5]],
[1,[65,2.2,70,2.4,74,2.1,74,1.7,72,1.45,70,1.4,67,1.55,64.5,1.9]],[2,[67,2.1,70,2.3,72.5,2,70,1.5,67,1.8]],[3,[68.5,2.05,70,2.2,71.5,1.95,70,1.7]],[1,[74,2.8,75,2.95,76,2.75,75,2.5]],
[0,[81.5,1.9,85,2.1,88,2.45,90,2.55,93,2.35,94,1.9,93,1.3,91,1.05,88,1.1,84,1.2,82,1.5]],
[0,[87.5,1.1,92,1.1,91,.8,93,.7,90,.68,86,.75]],[0,[73,.6,75,.75,80,.72,88,.7,90,.7,95,.55,75,.53]],
[1,[83,1.7,86,1.9,88,2.3,90,2.4,91,2.1,91,1.5,88,1.3,85,1.3]],[2,[84,1.75,86,1.75,87,1.5,85,1.45]],
[0,[96,2.5,97,3,100,3.2,102,3.5,105,3.85,105,.63,100,.63,97,.9,99,.9,101,.9,97,1.3,96,1.5,96,2]],
[1,[97,2.7,100,3.05,102,3.1,105,3.5,105,1.6,100,1.35,97,1.7]],[2,[98,2.6,100,3,103,2.7,105,2.5,105,1.9,101,1.55,98.5,2.1]],[3,[99.5,2.5,100,2.8,102,2.3,105,2.25,102,1.9,100,1.9]],[4,[100,2.45,100.5,2.7,101.5,2.3,100.5,2.1]]];
const I_cold=[
[0,5.87,20,5.85,30,5.78,45,5.87,105,5.87],[0,5.6,20,5.58,30,5.5,45,5.58,60,5.53,75,5.57,105,5.6],[0,5.33,20,5.3,30,5.25,45,5.3,55,5.23,70,5.3,105,5.33],
[0,5.05,20,5.03,30,4.98,45,5.03,55,4.97,70,5.05,105,5.07],[0,4.74,15,4.75,30,4.7,45,4.73,55,4.68,70,4.72,105,4.76],[0,4.46,15,4.45,30,4.43,45,4.45,55,4.4,70,4.45,105,4.47],
[0,4.18,20,4.15,30,4.13,45,4.15,55,4.1,70,4.1,105,4.18],[0,3.91,20,3.88,30,3.85,45,3.88,55,3.82,70,3.87,105,3.9],[0,3.61,15,3.6,30,3.6,45,3.6,55,3.55,70,3.6,105,3.62],
[0,3.29,20,3.27,30,3.22,45,3.27,55,3.22,70,3.25,105,3.3],[0,2.98,15,2.95,30,2.92,45,2.95,55,2.92,70,2.98,105,2.98],[0,2.59,15,2.58,30,2.52,40,2.58,55,2.58,70,2.58,105,2.55],
[0,2.18,5,2.15,15,2.22,30,2.15,40,2.2,55,2.2,70,2.15,105,2.2],[0,1.92,10,1.9,20,1.9,30,1.82,40,1.9,55,1.9,70,1.95,75,1.93,90,1.92,105,1.9],
[0,1.62,5,1.62,10,1.5,20,1.4,25,1.35,35,1.45,45,1.45,55,1.45,60,1.55,70,1.4,80,1.55,90,1.4,95,1.4,105,1.5],
[10,1.25,15,1.15,25,1.1,33,1.05,35,1,45,1.1,50,1.1,60,1.15,65,1.25,70,1.2,80,1.2,90,1.1,105,1.12]];
const I_warm=[[15,.92,25,.88,30,.82,35,.72,37,.9,45,.95,55,.88,65,.97,72,.75,75,.6],[75,.75,85,.8,100,.9,105,.83]];
const I_tags=[['-35',55,5.33],['-30',55,4.75],['-25',65,4.2],['-20',70,3.62],['-15',60.5,3],['-10',55,2.27],['-5',55,1.55],['0',80,.92]];

/* ---------- J ---------- */
const J_terrain=[0,.75,10,.68,20,.65,30,.72,35,1,39,1.65,42,1,45,.42,50,.92,55,.75,60,.55,65,.48,75,.42,80,.47,85,.4,90,.5,100,.45,105,.6,115,.75,120,1.3,125,1.15,130,.75,135,.73,140,.65,150,.72,160,.92,165,1.1,170,1.5];
const J_ice=[];
const J_liquid=[
[0,[1,1.6,5,1.75,10,1.85,12,2,15,2.1,19,2.05,21,1.85,20,1.65,18.5,1,15,.95,12,1.05,7,1.15,5,.95,2,1.1]],
[1,[2,1.55,6,1.7,11,1.7,14,2,18,2,19,1.7,17.5,1.1,14,1.05,12,1.15,8,1.2,5,1.05,3,1.15]],
[2,[4,1.55,9,1.55,14,1.85,16,1.9,17,1.6,15,1.3,12,1.25,8,1.25,5,1.2]],
[3,[5,1.5,10,1.45,14,1.7,15,1.4,12,1.3,8,1.3,5,1.3]],[4,[7,1.4,10,1.4,12,1.35,9,1.33]],
[0,[56,1.35,60,1.45,63,1.3,60,1.22,57,1.22]],
[0,[89,1.25,100,1.35,105,1.55,108,1.5,110,1.2,108,.9,105,.85,101,1,100,1.25]],[1,[103,1.3,105,1.45,107,1.3,105,1]],
[0,[130,1.6,135,1.85,145,1.7,153,1.9,158,1.9,160,1.55,157,1.35,163,1.25,158,1.15,150,.95,145,.95,137,1.1,132,1.3]],
[1,[132,1.55,135,1.75,145,1.6,152,1.75,157,1.8,158,1.45,155,1.2,150,1,145,1.05,138,1.15,134,1.35]],
[2,[133,1.6,137,1.65,143,1.45,150,1.55,155,1.5,155,1.2,150,1.05,143,1.1,140,1.3,135,1.4]],
[3,[136,1.6,140,1.55,138,1.45]],[3,[143,1.2,150,1.45,154,1.3,150,1.1,145,1.15]],[4,[148,1.2,151,1.35,153,1.25,150,1.12]],
[0,[160,1.35,163,1.55,166,1.95,170,2.15,170,1.5,167,1.45,165,1.4]],[1,[166,1.7,170,2,170,1.55,167,1.6]]];
const J_cold=[
[0,5.8,10,5.83,20,5.72,30,5.68,40,5.6,48,5.45],[44,5.9,50,5.47,55,5.53,60,5.43,80,5.45,100,5.42,105,5.45,120,5.55,130,5.7,140,5.72,150,5.78,170,5.83],[115,5.85,120,5.9,125,5.87],
[0,5.48,10,5.5,20,5.4,30,5.35,40,5.3,48,5.1,52,5.17,55,5.2,60,5.1,80,5.1,100,5.05,110,5.1,120,5.22,130,5.3,145,5.4,170,5.5],
[0,5.18,15,5.18,25,5.05,40,5,50,4.8,55,4.87,60,4.78,80,4.75,100,4.72,115,4.85,125,5,135,5.05,150,5.15,170,5.2],
[0,4.87,10,4.87,20,4.75,35,4.72,50,4.5,55,4.57,60,4.47,80,4.45,105,4.4,120,4.6,130,4.7,150,4.8,170,4.87],
[0,4.51,10,4.52,20,4.45,35,4.35,50,4.1,55,4.2,65,4.1,85,4.1,100,4.05,115,4.2,125,4.35,145,4.45,170,4.55],
[0,4.2,10,4.2,25,4.1,40,4,50,3.75,55,3.85,65,3.78,85,3.78,100,3.72,115,3.85,125,4,145,4.15,170,4.27],
[0,3.88,10,3.8,15,3.85,25,3.8,35,3.65,40,3.72,50,3.5,65,3.5,85,3.5,105,3.5,115,3.55,125,3.75,145,3.85,170,3.95],
[0,3.55,10,3.4,20,3.5,30,3.35,40,3.3,45,3.15,50,3.3,65,3.15,90,3.15,105,3.15,115,3.2,120,3.3,130,3.45,145,3.55,170,3.6],
[0,3.17,10,3,15,2.9,20,3,30,2.9,40,3,50,3,65,2.78,75,2.78,90,2.75,105,2.72,110,2.65,115,2.9,125,3,145,3.05,160,3.2,170,3.17],
[0,2.7,15,2.52,30,2.55,40,2.35,50,2.25,53,2.05,58,2.35,70,2.3,85,2.35,100,2.3,110,2.2,118,2.3,122,2.4,135,2.5,150,2.65,170,2.7]];
const J_warm=[
[0,2.16,5,2.12,10,2.05,14,2,17,1.75,20,1.72,24,2.07,29,1.8,35,2.1,40,1.75,45,1.65,50,1.55,55,1.55,60,1.75,65,1.8,70,1.6,75,1.75,80,1.6,85,1.75,95,1.75,100,1.55,105,1.55,115,1.65,118,1.55,125,1.8,135,1.95,150,2.1,160,2.3,170,2.32],
[0,1.8,10,1.55,20,1.45,30,1.3,36,1.3],[43,1.2,45,1.2,50,1.2,60,1.2,80,1.2,100,1.18,115,1.3,125,1.5,130,1.25,140,1.2,150,1.6,160,1.9,170,1.85],
[0,1.48,10,1.3,20,1.17,30,1.15,35,1.1],[44,.97,50,.9,60,.93,80,.95,100,.95,105,.9,115,.95],[125,1.25,130,1.1,140,1.05,150,1.15,160,1.4,170,1.55],
[0,.97,10,.9,20,.85,30,.82],[60,.65,80,.7,100,.7,105,.65,110,.68],[130,.8,145,.85,155,.95]];
const J_tags=[['-25',85,5.43],['-20',90,4.8],['-15',80,4.2],['-10',95,3.5],['-5',100,2.72],['0',63,1.8],['0',119,1.73],['5',156,1.27],['5',117,.48]];

/* ---------- panels: titles, axis ranges, ticks ---------- */
const ticks15=[0,15,30,45,60,75];
const panels=[
{id:'A',title:'20111202',xMax:80,xTicks:ticks15,terrain:A_terrain,ice:A_ice,liquid:A_liquid,cold:A_cold,warm:A_warm,tags:A_tags,at:[49.3,26.7,220.7,265]},
{id:'B',title:'20120116',xMax:70,xTicks:[0,15,30,45,60],terrain:B_terrain,ice:B_ice,liquid:B_liquid,top:B_top,cold:B_cold,warm:B_warm,tags:B_tags,at:[339.3,26.7,221.4,265]},
{id:'C',title:'20120201',xMax:35,xTicks:[0,15,30],terrain:C_terrain,ice:C_ice,liquid:C_liquid,cold:C_cold,warm:C_warm,tags:C_tags,at:[628.3,25.3,221,265.4]},
{id:'D',title:'20120302',xMax:90,xTicks:[0,15,30,45,60,75,90],terrain:D_terrain,ice:D_ice,liquid:D_liquid,cold:D_cold,warm:D_warm,tags:D_tags,at:[918.7,25.3,221,265.4]},
{id:'E',title:'20121213',xMax:70,xTicks:[0,15,30,45,60],terrain:E_terrain,ice:E_ice,liquid:E_liquid,cold:E_cold,warm:E_warm,tags:E_tags,at:[50,352.3,221,265.7]},
{id:'F',title:'20130222',xMax:40,xTicks:[0,15,30],terrain:F_terrain,ice:F_ice,liquid:F_liquid,cold:F_cold,warm:F_warm,tags:F_tags,at:[340.3,352.3,221,265.7]},
{id:'G',title:'20160120',xMax:190,xTicks:[0,15,30,45,60,75,90,105,120,135,150,165,180],terrain:G_terrain,ice:G_ice,liquid:G_liquid,cold:G_cold,warm:G_warm,tags:G_tags,at:[630,352,220.7,265]},
{id:'H',title:'20170322',xMax:45,xTicks:[0,15,30,45],terrain:H_terrain,ice:H_ice,liquid:H_liquid,cold:H_cold,warm:H_warm,tags:H_tags,at:[920.3,352,220.7,265.3]},
{id:'I',title:'20170323',xMax:105,xTicks:[0,15,30,45,60,75,90,105],terrain:I_terrain,ice:I_ice,liquid:I_liquid,cold:I_cold,warm:I_warm,tags:I_tags,at:[50.3,682.3,221,265.7]},
{id:'J',title:'20170331',xMax:170,xTicks:[0,15,30,45,60,75,90,105,120,135,150,165],terrain:J_terrain,ice:J_ice,liquid:J_liquid,cold:J_cold,warm:J_warm,tags:J_tags,at:[341,682.3,221.3,265.7]}];
const letterSpots={A:[11,8],B:[302,8],C:[591,8],D:[882,8],E:[12,335],F:[303,335],G:[592,335],H:[883,335],I:[13,665],J:[304,665]};

const SANS='"Liberation Sans",Arial,sans-serif';
const toPoints=(f,close)=>{const o=[];for(let i=0;i<f.length;i+=2)o.push({x:f[i],y:f[i+1]});if(close)o.push({x:f[0],y:f[1]});return o;};

/* fills a closed line dataset with its own colour, using the line element's path */
const shapeFill={id:'shapeFill',beforeDatasetDraw(chart,args){
  const ds=chart.data.datasets[args.index];if(!ds.shapeColor)return;
  const a=chart.chartArea,ctx=chart.ctx,line=args.meta.dataset;
  line.updateControlPoints(a,'x');
  ctx.save();ctx.beginPath();ctx.rect(a.left,a.top,a.width,a.height);ctx.clip();
  ctx.beginPath();line.path(ctx);ctx.closePath();ctx.fillStyle=ds.shapeColor;ctx.fill();ctx.restore();
}};
const frame={id:'frame',beforeDatasetsDraw(chart){
  const a=chart.chartArea,ctx=chart.ctx,y=chart.scales.y;if(!y)return;
  ctx.save();ctx.strokeStyle='#ececec';ctx.lineWidth=1;ctx.strokeRect(a.left,a.top,a.width,a.height);
  ctx.beginPath();y.ticks.forEach(t=>{const p=y.getPixelForValue(t.value);ctx.moveTo(a.left,p);ctx.lineTo(a.left+8,p);});ctx.stroke();ctx.restore();
}};
const contourTags={id:'contourTags',afterDatasetsDraw(chart,_,opts){
  const ctx=chart.ctx,x=chart.scales.x,y=chart.scales.y;
  ctx.save();ctx.font='10px '+SANS;ctx.textAlign='center';ctx.textBaseline='middle';
  (opts.items||[]).forEach(([t,vx,vy])=>{
    const px=x.getPixelForValue(vx),py=y.getPixelForValue(vy),w=ctx.measureText(t).width+5;
    ctx.fillStyle='#fff';ctx.fillRect(px-w/2,py-6,w,12);
    ctx.strokeStyle='#eee';ctx.lineWidth=.6;ctx.strokeRect(px-w/2,py-6,w,12);
    ctx.fillStyle='#222';ctx.fillText(t,px,py+.5);
  });ctx.restore();
}};

function buildDatasets(p){
  const out=[];
  const shape=(list,colors,name)=>(list||[]).forEach(([lvl,pts])=>out.push({type:'scatter',label:name+' '+lvl,data:toPoints(pts,true),showLine:true,pointRadius:0,borderWidth:0,tension:.15,fill:false,shapeColor:colors[lvl]}));
  shape(p.ice,iceColors,'IWC');
  shape(p.liquid,liquidColors,'LWC');
  shape(p.top,iceColors,'IWC');
  const line=(list,dash,name)=>list.forEach(f=>out.push({type:'scatter',label:name,data:toPoints(f,false),showLine:true,pointRadius:0,borderColor:'#555',borderWidth:.8,borderDash:dash?[6,3]:[],tension:0,fill:false}));
  line(p.cold,true,'temperature');
  line(p.warm,false,'temperature');
  out.push({type:'scatter',label:'terrain',data:[{x:0,y:0},...toPoints(p.terrain,false),{x:p.xMax,y:0}],showLine:true,pointRadius:0,borderWidth:0,tension:0,fill:false,shapeColor:'#000'});
  out.forEach((d,i)=>d.order=out.length-i);
  return out;
}

panels.forEach(p=>{
  const [L,T,W,H]=p.at,side=46,topH=26,botH=36;
  const c=document.createElement('canvas');
  const cw=W+side*2,ch=H+topH+botH;
  c.width=cw;c.height=ch;c.style.cssText=`left:${L-side}px;top:${T-topH}px;width:${cw}px;height:${ch}px`;
  document.body.appendChild(c);
  new Chart(c,{data:{datasets:buildDatasets(p)},plugins:[shapeFill,frame,contourTags],options:{
    responsive:false,animation:false,devicePixelRatio:1,
    plugins:{legend:{display:false},tooltip:{enabled:false},
      title:{display:true,text:p.title,color:'#111',font:{family:'Lato',size:16,weight:'bold',lineHeight:1},padding:{top:9.5,bottom:.5}},
      contourTags:{items:p.tags}},
    scales:{
      x:{type:'linear',min:0,max:p.xMax,afterFit:s=>{s.height=botH},afterBuildTicks:s=>{s.ticks=p.xTicks.map(v=>({value:v}))},
        grid:{display:false,drawTicks:false},border:{display:false},
        ticks:{padding:5,autoSkip:false,maxRotation:0,color:'#333',font:{family:SANS,size:9},callback:v=>String(v)},
        title:{display:true,text:'Minutes',color:'#222',font:{family:SANS,size:11.5},padding:{top:0,bottom:4}}},
      y:{type:'linear',min:0,max:5.9,afterFit:s=>{s.width=side},afterBuildTicks:s=>{s.ticks=heightTicks.map(v=>({value:v}))},
        grid:{display:false,drawTicks:false},border:{display:false},
        ticks:{padding:6,color:'#333',font:{family:SANS,size:9},callback:v=>Number(v).toFixed(1)},
        title:{display:true,text:'Height (km)',color:'#222',font:{family:SANS,size:11.5},padding:{top:11,bottom:0}}},
      spare:{type:'linear',position:'right',afterFit:s=>{s.width=side},grid:{display:false,drawTicks:false},border:{display:false},ticks:{display:false}}
    }}});
  const t=document.createElement('div');t.className='tag';t.textContent=p.id+')';
  t.style.left=letterSpots[p.id][0]+'px';t.style.top=letterSpots[p.id][1]+'px';document.body.appendChild(t);
});

/* ---------- colour-scale legend ---------- */
const legendTicks={id:'legendTicks',afterDatasetsDraw(chart){
  const ctx=chart.ctx,x=chart.scales.x,y=chart.scales.y;
  ctx.save();ctx.font='13px '+SANS;ctx.fillStyle='#333';ctx.textAlign='center';ctx.textBaseline='middle';
  legendRows.forEach((_,r)=>legendTickValues.forEach((v,i)=>ctx.fillText(legendTickLabels[i],x.getPixelForValue(v),y.getPixelForValue(r)+21)));
  ctx.restore();
}};
(function(){
  const c=document.createElement('canvas');c.width=490;c.height=169;
  c.style.cssText='left:634px;top:731px;width:490px;height:169px';document.body.appendChild(c);
  new Chart(c,{type:'bar',plugins:[legendTicks],data:{labels:legendRows,datasets:legendEdges.slice(0,-1).map((e,i)=>({
    label:'step '+i,data:[[e,legendEdges[i+1]],[e,legendEdges[i+1]]],grouped:false,barThickness:12.7,borderSkipped:false,
    backgroundColor:i===0?['#fff','#fff']:[liquidColors[i-1],iceColors[i-1]],
    borderColor:'#e8e8e8',borderWidth:i===0?{top:1,bottom:1,left:0,right:0}:0}))},
  options:{indexAxis:'y',responsive:false,animation:false,devicePixelRatio:1,layout:{padding:{left:12,top:8.8,bottom:33}},
    plugins:{legend:{display:false},tooltip:{enabled:false}},
    scales:{x:{type:'linear',min:legendEdges[0],max:legendEdges[legendEdges.length-1],display:false},
      y:{type:'category',position:'right',afterFit:s=>{s.width=92},grid:{display:false,drawTicks:false},border:{display:false},
        ticks:{padding:4,color:'#111',font:{family:'Lato',size:14.5,weight:'bold'}}}}}});
})();
</script></body></html>
